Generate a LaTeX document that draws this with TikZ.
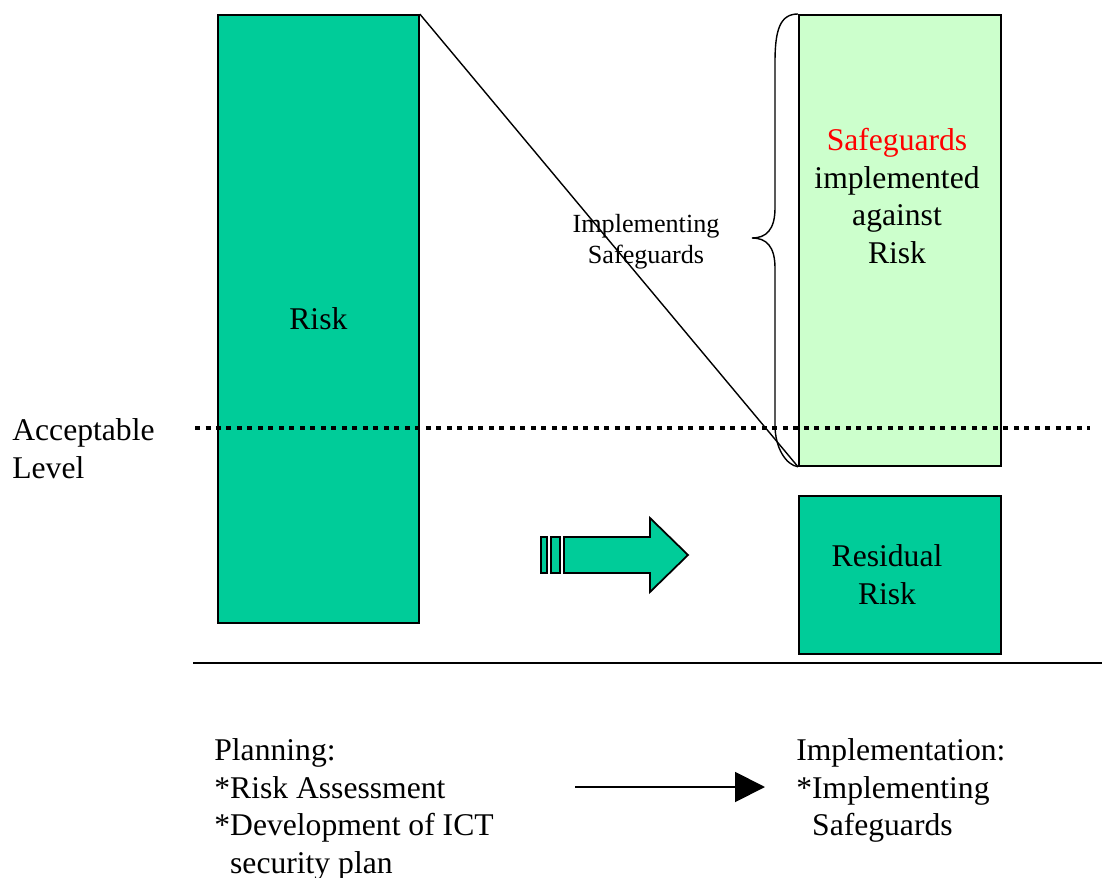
\documentclass[tikz,border=0pt]{standalone}
\usepackage{fontspec}
\setmainfont{Liberation Serif}
\usepackage{xcolor}
\usetikzlibrary{arrows.meta}

\definecolor{riskgreen}{HTML}{00CC99}
\definecolor{safegreen}{HTML}{CCFFCC}

\def\px{0.02cm}

\begin{document}
\begin{tikzpicture}[x=\px, y=-\px,
	riskbox/.style = {draw, line width=1pt, fill=riskgreen, inner sep=0pt, anchor=north west},
	safebox/.style = {riskbox, fill=safegreen},
	txt/.style = {inner sep=0pt, font=\fontsize{18}{21.5}\selectfont},
	smalltxt/.style = {inner sep=0pt, font=\fontsize{14.9}{17.5}\selectfont},
	thinline/.style = {line width=0.8pt},
	acceptline/.style = {line width=0.095cm, dash pattern=on 0.1cm off 0.11cm}]

	\useasboundingbox (0,0) rectangle (1102,878);

	% the three columns
	\node[riskbox, minimum width=201*\px, minimum height=608*\px, font=\fontsize{18}{21.5}\selectfont] (risk) at (217,14) {Risk};
	\node[safebox, minimum width=202*\px, minimum height=451*\px] (safe) at (798,14) {};
	\node[riskbox, minimum width=202*\px, minimum height=158*\px] (resid) at (798,495) {};

	\node[txt, align=center] (safetxt) at (897,196) {\textcolor{red}{Safeguards}\\implemented\\against\\Risk};
	\node[txt, align=center] (residtxt) at (887,575) {Residual\\Risk};
	\node[smalltxt, align=center] (impltxt) at (646,242) {Implementing\\Safeguards};

	% reduction of risk
	\draw[thinline] (risk.north east) -- (safe.south west);
	\draw[thinline] (safe.north west) .. controls +(-18,0) and (775,30) .. (775,62)
		-- (775,208) .. controls (775,230) and (766,238) .. (752,238)
		.. controls (766,238) and (775,246) .. (775,268)
		-- (775,425) .. controls (775,448) and (786,465) .. (safe.south west);

	% acceptable level
	\coordinate (accL) at (195,428);
	\coordinate (accR) at (1090,428);
	\draw[acceptline] (accL) -- (accR);
	\node[txt, align=left, anchor=north west] (acc) at (12,418) {Acceptable\\Level};

	% fat arrow
	\begin{scope}[draw=black, fill=riskgreen, line width=1pt]
		\filldraw (541,537) rectangle (547,573);
		\filldraw (551,537) rectangle (560,573);
		\filldraw (564,537) -- (650,537) -- (650,518) -- (688,555)
			-- (650,592) -- (650,573) -- (564,573) -- cycle;
	\end{scope}

	% phases
	\coordinate (baseL) at (193,663);
	\coordinate (baseR) at (1102,663);
	\draw[thinline] (baseL) -- (baseR);

	\node[txt, align=left, anchor=north west] (plan) at (214,738) {Planning:\\*Risk Assessment\\*Development of ICT\\\phantom{*}security plan};
	\node[txt, align=left, anchor=north west] (impl) at (796,738) {Implementation:\\*Implementing\\\phantom{*}Safeguards};

	\coordinate (phaseA) at (575,787);
	\coordinate (phaseB) at (765,787);
	\draw[line width=1.1pt, -{Triangle[length=0.6cm, width=0.6cm]}] (phaseA) -- (phaseB);
\end{tikzpicture}
\end{document}
